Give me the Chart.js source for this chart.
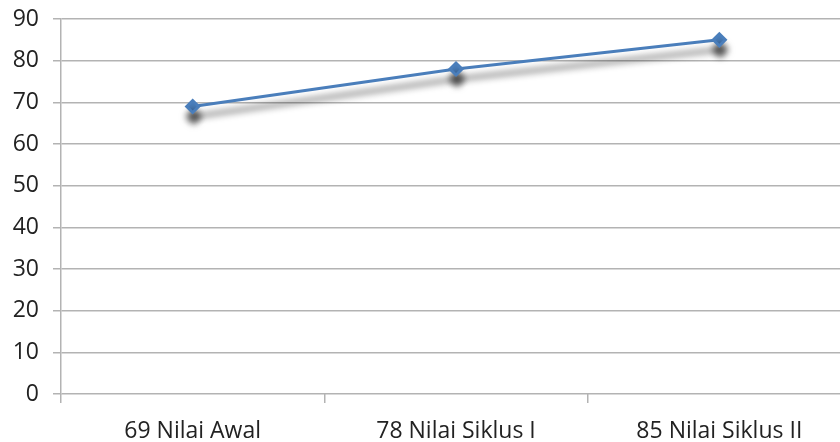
<!DOCTYPE html>
<html>
<head>
<meta charset="utf-8">
<script src="https://cdn.jsdelivr.net/npm/chart.js@4"></script>
<style>
  html, body { margin: 0; padding: 0; background: #fff; overflow: hidden; }
  #wrap { width: 851px; height: 442px; }
</style>
</head>
<body>
<div id="wrap"><canvas id="myChart"></canvas></div>
<script>
// nilai rata-rata tiap tahap
var labels = ['69 Nilai Awal', '78 Nilai Siklus I', '85 Nilai Siklus II'];
var nilai = [69, 78, 85];
var yTicks = [0, 10, 20, 30, 40, 50, 60, 70, 80, 90];

var gridColor = '#b3b3b3';
var fontFamily = '"Open Sans", sans-serif';

// bayangan abu-abu di bawah garis
var shadowPlugin = {
    id: 'lineShadow',
    beforeDatasetDraw: function (chart) {
        var ctx = chart.ctx;
        ctx.save();
        ctx.shadowColor = 'rgba(0, 0, 0, 0.65)';
        ctx.shadowBlur = 7;
        ctx.shadowOffsetX = 1;
        ctx.shadowOffsetY = 10;
    },
    afterDatasetDraw: function (chart) {
        chart.ctx.restore();
    }
};

var ctx = document.getElementById('myChart').getContext('2d');
var myChart = new Chart(ctx, {
    type: 'line',
    data: {
        labels: labels,
        datasets: [{
            label: 'Nilai',
            data: nilai,
            borderColor: '#4a7ebb',
            backgroundColor: '#4a7ebb',
            borderWidth: 3,
            pointStyle: 'rectRot',
            pointRadius: 6,
            pointHoverRadius: 6,
            tension: 0
        }]
    },
    options: {
        responsive: true,
        maintainAspectRatio: false,
        animation: false,
        layout: {
            autoPadding: false,
            padding: { top: 19, right: 0, bottom: 0, left: 0 }
        },
        plugins: {
            legend: { display: false },
            tooltip: { enabled: false }
        },
        scales: {
            x: {
                offset: true,
                grid: {
                    offset: true,
                    drawOnChartArea: false,
                    drawTicks: true,
                    tickLength: 9,
                    color: gridColor,
                    lineWidth: 1.5
                },
                border: { display: false },
                ticks: {
                    color: '#222',
                    padding: 15,
                    maxRotation: 0,
                    font: { family: fontFamily, size: 23 }
                },
                afterFit: function (scale) {
                    scale.height = 48;
                    scale.paddingLeft = 0;
                    scale.paddingRight = 0;
                }
            },
            y: {
                min: 0,
                max: 90,
                afterBuildTicks: function (scale) {
                    scale.ticks = yTicks.map(function (v) { return { value: v }; });
                },
                grid: {
                    color: gridColor,
                    lineWidth: 1.5,
                    tickLength: 8
                },
                border: { display: true, color: gridColor, width: 1.5 },
                ticks: {
                    color: '#222',
                    padding: 14,
                    font: { family: fontFamily, size: 23 }
                },
                afterFit: function (scale) {
                    scale.width = 61;
                    scale.paddingTop = 0;
                    scale.paddingBottom = 0;
                }
            }
        }
    },
    plugins: [shadowPlugin]
});
</script>
</body>
</html>
